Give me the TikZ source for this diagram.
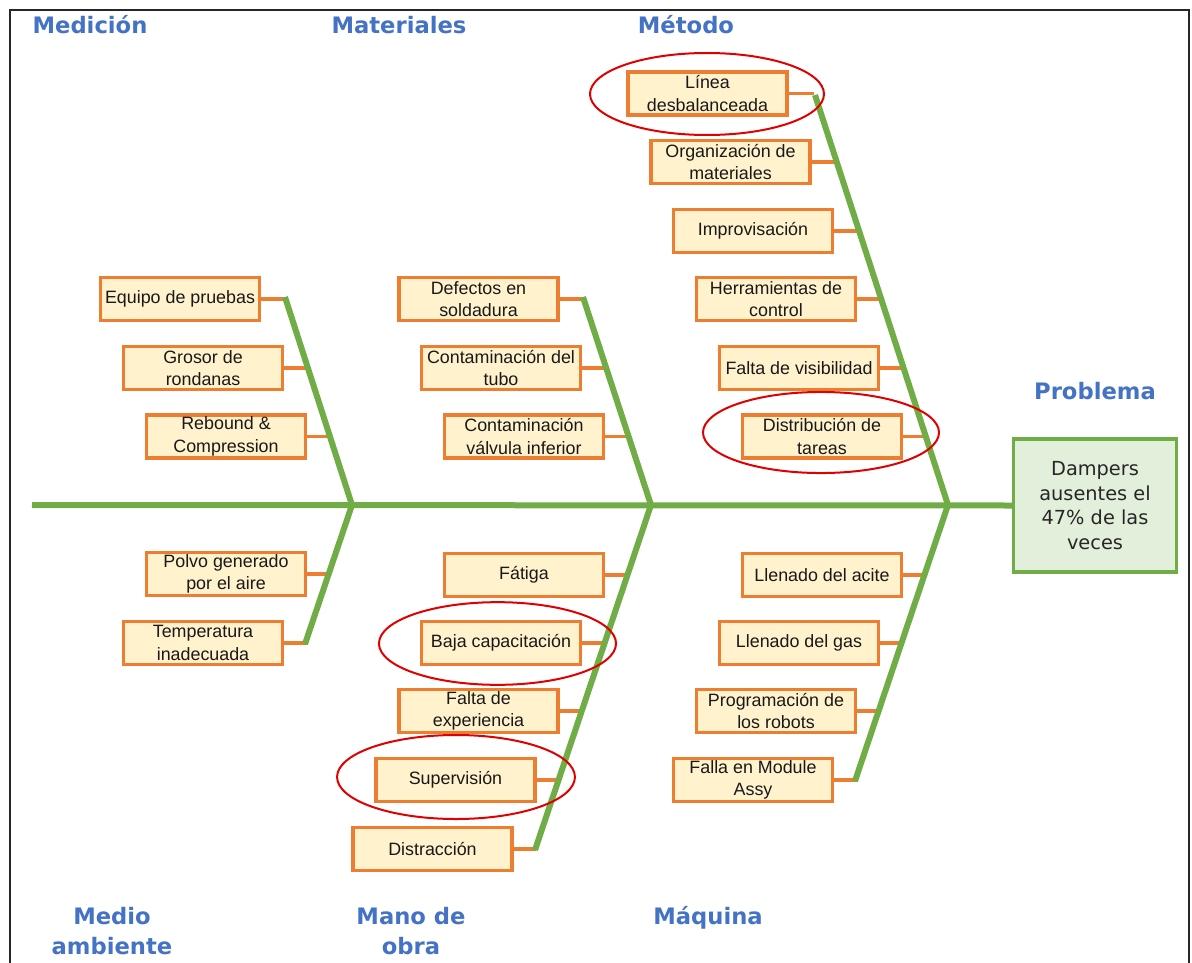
\documentclass[tikz,border=0pt]{standalone}
\usepackage{fontspec}
\setmainfont{Liberation Sans}
\newfontfamily\titlefont{DejaVu Sans}
\usetikzlibrary{calc}
\definecolor{boneG}{HTML}{70AD47}
\definecolor{boxO}{HTML}{ED7D31}
\definecolor{boxF}{HTML}{FFF2CC}
\definecolor{probF}{HTML}{E2EFDA}
\definecolor{titB}{HTML}{4472C4}
\definecolor{markR}{HTML}{E00000}
\tikzset{
  cause/.style={draw=boxO, fill=boxF, line width=2.7pt, minimum width=119.5pt, minimum height=32.5pt,
    inner sep=1pt, align=center, text=black!90, font=\fontsize{13.4}{17}\selectfont},
  problem/.style={draw=boneG, fill=probF, line width=2.6pt, minimum width=122pt, minimum height=100pt,
    align=center, text=black!85, font=\titlefont\fontsize{14.5}{18.5}\selectfont},
  cattitle/.style={text=titB, align=center, inner sep=0pt, font=\titlefont\bfseries\fontsize{17}{23}\selectfont},
  bone/.style={draw=boneG, line width=4.5pt},
  conn/.style={draw=boxO, line width=2.4pt},
  redmark/.style={draw=markR, line width=1.5pt},
  frameline/.style={draw=black!85, line width=1.6pt}
}
\begin{document}
\begin{tikzpicture}[x=0.75pt, y=-0.75pt]
\useasboundingbox (0,0) rectangle (1192,963);
\draw[frameline] (10,963) -- (10,10) -- (1189,10) -- (1189,963);

% titles
\node[cattitle] (tMed) at (90,25) {Medición};
\node[cattitle] (tMat) at (399,25) {Materiales};
\node[cattitle] (tMet) at (686,25) {Método};
\node[cattitle] (tPro) at (1095,391) {Problema};
\node[cattitle] (tAmb) at (112,931) {Medio\\ambiente};
\node[cattitle] (tMan) at (411,931) {Mano de\\obra};
\node[cattitle] (tMaq) at (708,918) {Máquina};

% problem
\node[problem] (prob) at (1095,505.5) {Dampers\\ausentes el\\47\% de las\\veces};

% bone coordinates
\coordinate (tail) at (32,505);
\coordinate (j1) at (352,505);
\coordinate (j2) at (651,505);
\coordinate (j3) at (948,505);
\coordinate (b1) at (285,297);
\coordinate (b2) at (583,297);
\coordinate (b3) at (815,95);
\coordinate (b4) at (305,644);
\coordinate (b5) at (535,850);
\coordinate (b6) at (855,781);

% cause boxes
\node[cause] (c11) at (180,299) {Equipo de pruebas};
\node[cause] (c12) at (203,368) {Grosor de\\rondanas};
\node[cause] (c13) at (226,436.5) {Rebound \&\\Compression};

\node[cause] (c21) at (478.5,299) {Defectos en\\soldadura};
\node[cause] (c22) at (501,368) {Contaminación del\\tubo};
\node[cause] (c23) at (524,436.5) {Contaminación\\válvula inferior};

\node[cause] (c31) at (707.5,93.5) {Línea\\desbalanceada};
\node[cause] (c32) at (730.5,162) {Organización de\\materiales};
\node[cause] (c33) at (753,231) {Improvisación};
\node[cause] (c34) at (776,299) {Herramientas de\\control};
\node[cause] (c35) at (799,368) {Falta de visibilidad};
\node[cause] (c36) at (822,436.5) {Distribución de\\tareas};

\node[cause] (c41) at (226,574) {Polvo generado\\por el aire};
\node[cause] (c42) at (203,643) {Temperatura\\inadecuada};

\node[cause] (c51) at (524,575) {Fátiga};
\node[cause] (c52) at (501,643) {Baja capacitación};
\node[cause] (c53) at (478.5,711) {Falta de\\experiencia};
\node[cause] (c54) at (455.5,780) {Supervisión};
\node[cause] (c55) at (432.5,849) {Distracción};

\node[cause] (c61) at (822,575) {Llenado del acite};
\node[cause] (c62) at (799,643) {Llenado del gas};
\node[cause] (c63) at (776,711) {Programación de\\los robots};
\node[cause] (c64) at (753,780) {Falla en Module\\Assy};

% connectors
\foreach \n in {c11,c12,c13,c21,c22,c23,c31,c32,c33,c34,c35,c36}
  \draw[conn] (\n.east) -- ++(25,0);
\foreach \n in {c41,c42,c51,c52,c53,c54,c55,c61,c62,c63,c64}
  \draw[conn] (\n.east) -- ++(22.5,0);

% bones
\draw[bone] (tail) -- (prob.west);
\draw[bone] (b1) -- (j1) -- (b4);
\draw[bone] (b2) -- (j2) -- (b5);
\draw[bone] (b3) -- (j3) -- (b6);

% red marks
\draw[redmark] (707,94) ellipse [x radius=87.75pt, y radius=30.75pt];
\draw[redmark] (821,432.5) ellipse [x radius=88.5pt, y radius=30.4pt];
\draw[redmark] (497.5,643.5) ellipse [x radius=88.9pt, y radius=31pt];
\draw[redmark] (456,777) ellipse [x radius=89.2pt, y radius=31.5pt];
\end{tikzpicture}
\end{document}
